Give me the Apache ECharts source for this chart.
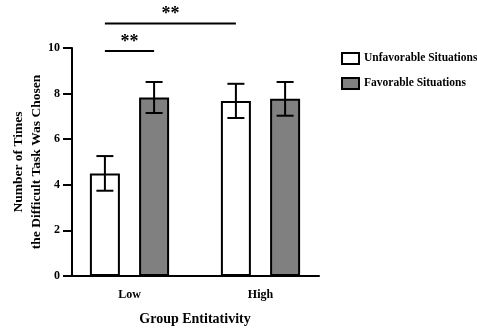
<!DOCTYPE html>
<html><head><meta charset="utf-8">
<script src="https://cdn.jsdelivr.net/npm/echarts@6/dist/echarts.min.js"></script>
<style>html,body{margin:0;padding:0;background:#fff}#c{width:477px;height:329px}</style>
</head><body><div id="c"></div>
<script>
var categories = ['Low', 'High'];
var seriesNames = ['Unfavorable Situations', 'Favorable Situations'];
var unfavMeans = [4.5, 7.68];
var unfavErr = [0.76, 0.75];
var favMeans = [7.83, 7.77];
var favErr = [0.68, 0.74];
var yTicks = [0, 2, 4, 6, 8, 10];
// significance brackets: [catA, seriesA, catB, seriesB, level, label]
var brackets = [
  [0, 0, 0, 1, 9.87, '**'],
  [0, 0, 1, 0, 11.08, '**']
];

var FONT = 'Liberation Serif';
var BAR_W = 30, BAR_GAP = 0.64;
var half = (BAR_W + BAR_W * BAR_GAP) / 2;
function offsetOf(s) { return s === 0 ? -half : half; }

var errData = [];
for (var i = 0; i < categories.length; i++) {
  errData.push([i, unfavMeans[i], unfavErr[i], 0]);
  errData.push([i, favMeans[i], favErr[i], 1]);
}

var chart = echarts.init(document.getElementById('c'));
chart.setOption({
  animation: false,
  backgroundColor: '#fff',
  grid: [
    { left: 64, right: 151, top: 48, bottom: 53, containLabel: false, outerBoundsMode: 'none' },
    { left: 72, right: 158, top: 48, bottom: 53, containLabel: false, outerBoundsMode: 'none' }
  ],
  legend: {
    data: seriesNames,
    orient: 'vertical',
    left: 336, top: 47,
    icon: 'rect',
    itemWidth: 17, itemHeight: 11, itemGap: 12,
    textStyle: { fontFamily: FONT, fontWeight: 'bold', fontSize: 11.5, color: '#000' }
  },
  xAxis: [{
    type: 'category',
    gridIndex: 0,
    data: categories,
    name: 'Group Entitativity',
    nameLocation: 'middle',
    nameGap: 36,
    nameTextStyle: { fontFamily: FONT, fontWeight: 'bold', fontSize: 14, color: '#000' },
    axisLine: { show: false },
    axisTick: { alignWithLabel: true, length: 8, lineStyle: { color: '#000', width: 2 } },
    axisLabel: { fontFamily: FONT, fontWeight: 'bold', fontSize: 12, color: '#000', margin: 13 }
  }, {
    type: 'value',
    gridIndex: 1,
    min: 0, max: 1,
    axisLine: { show: true, onZero: false, lineStyle: { color: '#000', width: 2 } },
    axisTick: { show: false },
    axisLabel: { show: false },
    splitLine: { show: false }
  }],
  yAxis: [{
    type: 'value',
    gridIndex: 0,
    offset: -8,
    min: 0, max: 10, interval: 2,
    name: 'Number of Times\nthe Difficult Task Was Chosen',
    nameLocation: 'middle',
    nameGap: 26,
    nameMoveOverlap: false,
    nameRotate: 90,
    nameTextStyle: { fontFamily: FONT, fontWeight: 'bold', fontSize: 13.5, color: '#000', lineHeight: 18 },
    axisLine: { show: true, lineStyle: { color: '#000', width: 2 } },
    axisTick: { show: true, length: 9, lineStyle: { color: '#000', width: 2 } },
    axisLabel: { fontFamily: FONT, fontWeight: 'bold', fontSize: 12, color: '#000', margin: 12 },
    splitLine: { show: false }
  }, {
    type: 'value', gridIndex: 1, show: false, min: 0, max: 1
  }],
  series: [
    { name: seriesNames[0], type: 'bar', data: unfavMeans, barWidth: BAR_W, barGap: (BAR_GAP * 100) + '%',
      itemStyle: { color: '#fff', borderColor: '#000', borderWidth: 2 } },
    { name: seriesNames[1], type: 'bar', data: favMeans, barWidth: BAR_W,
      itemStyle: { color: '#808080', borderColor: '#000', borderWidth: 2 } },
    { type: 'custom', z: 5, data: errData, clip: false,
      renderItem: function (params, api) {
        var c = api.value(0), m = api.value(1), e = api.value(2), s = api.value(3);
        var top = api.coord([c, m + e]), bot = api.coord([c, m - e]);
        var x = top[0] + offsetOf(s);
        var cw = 8.5;
        var st = { stroke: '#000', lineWidth: 2 };
        return { type: 'group', children: [
          { type: 'line', shape: { x1: x, y1: top[1], x2: x, y2: bot[1] }, style: st },
          { type: 'line', shape: { x1: x - cw, y1: top[1], x2: x + cw, y2: top[1] }, style: st },
          { type: 'line', shape: { x1: x - cw, y1: bot[1], x2: x + cw, y2: bot[1] }, style: st }
        ]};
      }
    },
    { type: 'custom', z: 5, data: brackets, clip: false,
      renderItem: function (params, api) {
        var b = brackets[params.dataIndex];
        var pa = api.coord([b[0], b[4]]), pb = api.coord([b[2], b[4]]);
        var x1 = pa[0] + offsetOf(b[1]), x2 = pb[0] + offsetOf(b[3]);
        var y = pa[1];
        return { type: 'group', children: [
          { type: 'line', shape: { x1: x1, y1: y, x2: x2, y2: y }, style: { stroke: '#000', lineWidth: 2 } },
          { type: 'text', style: { text: b[5], x: (x1 + x2) / 2, y: y, align: 'center', verticalAlign: 'bottom',
            font: 'bold 18px "Liberation Serif"', fill: '#000' } }
        ]};
      }
    }
  ]
});
</script></body></html>
